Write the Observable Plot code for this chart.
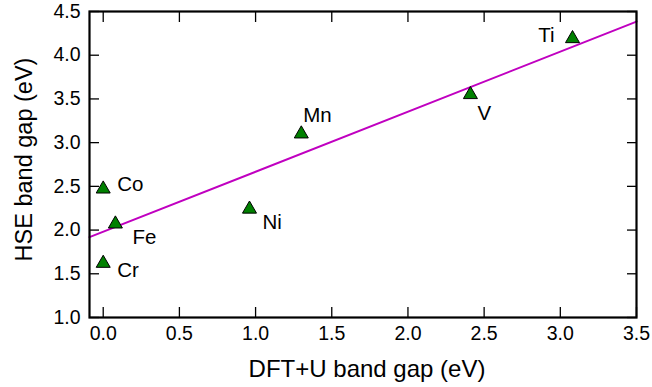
<!DOCTYPE html>
<html>
<head>
<meta charset="utf-8">
<script src="https://cdn.jsdelivr.net/npm/d3@7"></script>
<script src="https://cdn.jsdelivr.net/npm/@observablehq/plot@0.6"></script>
<style>
  html, body { margin: 0; padding: 0; background: #fff; }
  svg { font-family: "Liberation Sans", Arial, Helvetica, sans-serif; }
</style>
</head>
<body>
<div id="chart"></div>
<script>
// Data
const elements = ["Co", "Fe", "Cr", "Ni", "Mn", "V", "Ti"];
const dftU     = [0.00, 0.08, 0.00, 0.96, 1.30, 2.41, 3.08];
const hse      = [2.47, 2.07, 1.62, 2.24, 3.10, 3.55, 4.19];
const fitX     = [-0.09, 3.5];
const fitY     = [1.919, 4.384];
const xTicks   = [0.0, 0.5, 1.0, 1.5, 2.0, 2.5, 3.0, 3.5];
const yTicks   = [1.0, 1.5, 2.0, 2.5, 3.0, 3.5, 4.0, 4.5];
const xTitle   = "DFT+U band gap (eV)";
const yTitle   = "HSE band gap (eV)";

const points = elements.map((e, i) => ({name: e, x: dftU[i], y: hse[i]}));
const fit = fitX.map((x, i) => ({x, y: fitY[i]}));

// label placement (presentation only)
const labelStyle = {
  Co: {dx: 14, dy: -5, anchor: "start"},
  Fe: {dx: 17, dy: 13, anchor: "start"},
  Cr: {dx: 14, dy: 7, anchor: "start"},
  Ni: {dx: 13, dy: 13, anchor: "start"},
  Mn: {dx: 2, dy: -18, anchor: "start"},
  V:  {dx: 7, dy: 19, anchor: "start"},
  Ti: {dx: -18, dy: -3, anchor: "end"}
};

const labelSize = 20.5;
const tickSize = 19.5;
const labelMarks = points.map(p => {
  const s = labelStyle[p.name];
  return Plot.text([p], {x: "x", y: "y", text: "name", dx: s.dx, dy: s.dy,
    textAnchor: s.anchor, fontSize: labelSize, fill: "black"});
});

const chart = Plot.plot({
  width: 652,
  height: 387,
  marginLeft: 89,
  marginRight: 16,
  marginTop: 11,
  marginBottom: 70,
  style: {fontFamily: '"Liberation Sans", Arial, sans-serif', background: "white", overflow: "visible"},
  x: {domain: [-0.09, 3.5]},
  y: {domain: [1.0, 4.5]},
  marks: [
    Plot.line(fit, {x: "x", y: "y", stroke: "#c000c0", strokeWidth: 2}),
    Plot.dot(points, {x: "x", y: "y", symbol: "triangle", r: 5.2, fill: "#008000", stroke: "black", strokeWidth: 1}),
    ...labelMarks,
    Plot.axisX(xTicks, {anchor: "bottom", tickSize: -10, tickPadding: 19, strokeWidth: 1.3,
      tickFormat: d3.format(".1f"), fontSize: tickSize, label: null}),
    Plot.axisX(xTicks, {anchor: "top", tickSize: -10, strokeWidth: 1.3, tickFormat: () => "", label: null}),
    Plot.axisY(yTicks, {anchor: "left", tickSize: -10, tickPadding: 19, strokeWidth: 1.3,
      tickFormat: d3.format(".1f"), fontSize: tickSize, label: null}),
    Plot.axisY(yTicks, {anchor: "right", tickSize: -10, strokeWidth: 1.3, tickFormat: () => "", label: null}),
    Plot.text([xTitle], {frameAnchor: "bottom", textAnchor: "middle", dx: 4, dy: 52, fontSize: 24, fill: "black", lineAnchor: "middle"}),
    Plot.text([yTitle], {frameAnchor: "left", textAnchor: "middle", dx: -65, dy: -5, rotate: -90, fontSize: 23.5, fill: "black", lineAnchor: "middle"}),
    Plot.frame({stroke: "black", strokeWidth: 2.2})
  ]
});
document.getElementById("chart").appendChild(chart);
</script>
</body>
</html>
